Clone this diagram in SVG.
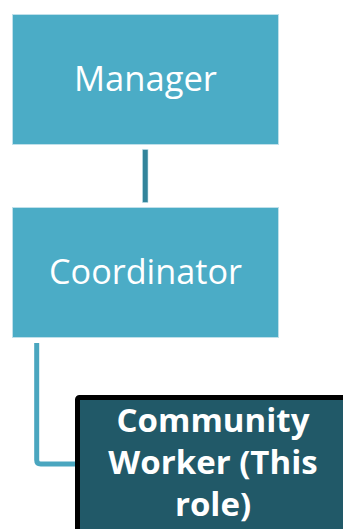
<svg xmlns="http://www.w3.org/2000/svg" width="343" height="529" viewBox="0 0 343 529">
  <style>
    .box { fill: #4BACC6; stroke: #BFE0EA; stroke-width: 1; }
    .lbl { font-family: "Open Sans", "Liberation Sans", sans-serif; font-size: 35px; fill: #FFFFFF; text-anchor: middle; }
    .bold { font-family: "Open Sans", "Liberation Sans", sans-serif; font-size: 33px; font-weight: bold; fill: #FFFFFF; text-anchor: middle; }
  </style>
  <rect width="343" height="529" fill="#FFFFFF"/>
  <g id="connectors">
    <rect x="142.5" y="149.5" width="5.5" height="53" fill="#31849B" stroke="#BFE0EA" stroke-width="0.6"/>
    <path d="M36.7 343 V460 Q36.7 464 40.7 464 H78" fill="none" stroke="#4AA6BF" stroke-width="5"/>
  </g>
  <g id="manager">
    <rect class="box" x="12.5" y="14.5" width="266" height="130"/>
    <text class="lbl" x="145.5" y="91" textLength="143" lengthAdjust="spacingAndGlyphs">Manager</text>
  </g>
  <g id="coordinator">
    <rect class="box" x="12.5" y="207.5" width="266" height="130"/>
    <text class="lbl" x="145.5" y="284" textLength="193" lengthAdjust="spacingAndGlyphs">Coordinator</text>
  </g>
  <g id="community-worker">
    <rect x="77.5" y="397.5" width="280" height="140" rx="2" fill="#215968" stroke="#000000" stroke-width="5"/>
    <text class="bold" x="213" y="432">Community</text>
    <text class="bold" x="213" y="474">Worker (This</text>
    <text class="bold" x="213" y="516">role)</text>
  </g>
</svg>
